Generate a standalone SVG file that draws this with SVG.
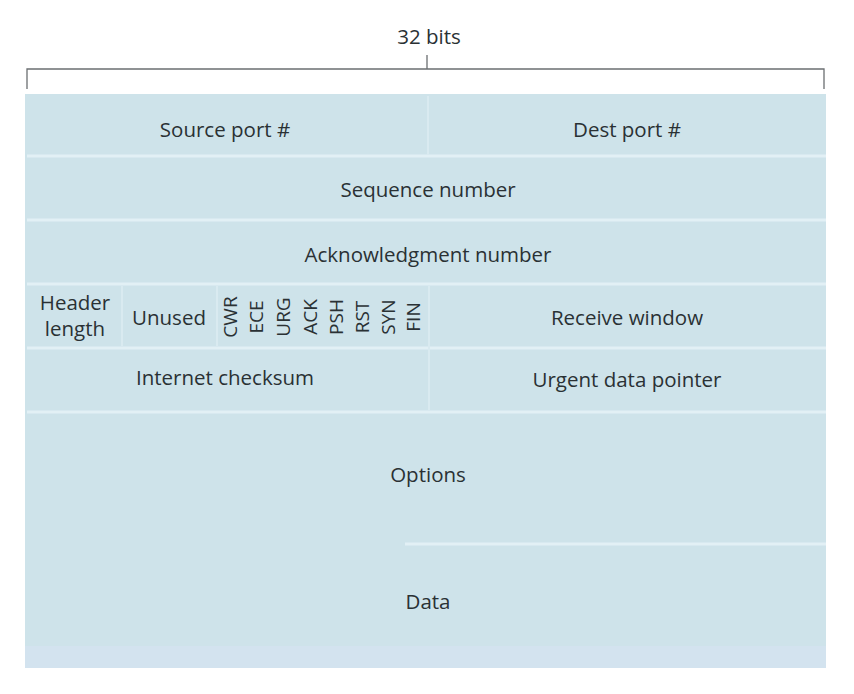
<svg xmlns="http://www.w3.org/2000/svg" width="854" height="694" viewBox="0 0 854 694">
<style>
  .t{font-family:"Open Sans","Noto Sans","Liberation Sans",sans-serif;font-size:20.5px;fill:#2a3134;text-anchor:middle}
  .f{font-family:"Open Sans","Noto Sans","Liberation Sans",sans-serif;font-size:19px;fill:#2a3134;text-anchor:middle}
  .cell{fill:#cee3ea}
  .sep{stroke:#e2f0f5;stroke-width:3}
  .vsep{stroke:#d9eaf0;stroke-width:2}
  .br{fill:none;stroke:#6b6f71;stroke-width:1.3}
</style>
<rect width="854" height="694" fill="#ffffff"/>
<g id="width-bracket">
  <path class="br" d="M27,89 V69 H824 V89 M427,69 V55"/>
  <text class="t" x="429" y="44">32 bits</text>
</g>
<g id="segment-body">
  <rect class="cell" x="25" y="94" width="801" height="574"/>
  <rect x="25" y="646" width="801" height="22" fill="#d3e3ef"/>
</g>
<g id="connectors">
  <line class="sep" x1="27" y1="156" x2="826" y2="156"/>
  <line class="sep" x1="27" y1="220" x2="826" y2="220"/>
  <line class="sep" x1="27" y1="284" x2="826" y2="284"/>
  <line class="sep" x1="27" y1="348" x2="826" y2="348"/>
  <line class="sep" x1="27" y1="412" x2="826" y2="412"/>
  <line class="sep" x1="405" y1="544" x2="826" y2="544"/>
  <line class="vsep" x1="428" y1="96" x2="428" y2="155"/>
  <line class="vsep" x1="429" y1="286" x2="429" y2="410"/>
  <line class="vsep" x1="122" y1="286" x2="122" y2="346"/>
  <line class="vsep" x1="217" y1="286" x2="217" y2="346"/>
</g>
<g id="source-port"><text class="t" x="225" y="137">Source port #</text></g>
<g id="dest-port"><text class="t" x="627" y="137">Dest port #</text></g>
<g id="sequence-number"><text class="t" x="428" y="197">Sequence number</text></g>
<g id="ack-number"><text class="t" x="428" y="262">Acknowledgment number</text></g>
<g id="header-length"><text class="t" x="75" y="310">Header</text><text class="t" x="75" y="336">length</text></g>
<g id="unused"><text class="t" x="169" y="325">Unused</text></g>
<g id="flags">
  <text class="f" transform="translate(237,317) rotate(-90)">CWR</text>
  <text class="f" transform="translate(263,317) rotate(-90)">ECE</text>
  <text class="f" transform="translate(290,317) rotate(-90)">URG</text>
  <text class="f" transform="translate(317,317) rotate(-90)">ACK</text>
  <text class="f" transform="translate(343,317) rotate(-90)">PSH</text>
  <text class="f" transform="translate(369,317) rotate(-90)">RST</text>
  <text class="f" transform="translate(395,317) rotate(-90)">SYN</text>
  <text class="f" transform="translate(420,317) rotate(-90)">FIN</text>
</g>
<g id="receive-window"><text class="t" x="627" y="325">Receive window</text></g>
<g id="internet-checksum"><text class="t" x="225" y="385">Internet checksum</text></g>
<g id="urgent-pointer"><text class="t" x="627" y="387">Urgent data pointer</text></g>
<g id="options"><text class="t" x="428" y="482">Options</text></g>
<g id="data"><text class="t" x="428" y="609">Data</text></g>
</svg>
